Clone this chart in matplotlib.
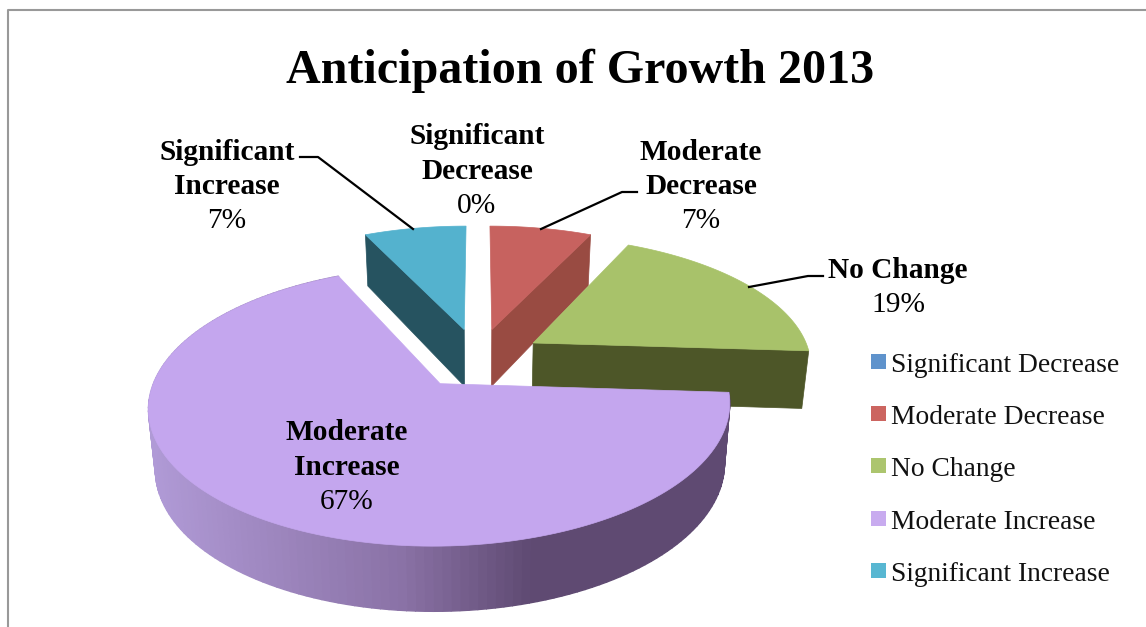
import numpy as np
import matplotlib
matplotlib.use('Agg')
import matplotlib.pyplot as plt
from matplotlib.patches import Polygon, Rectangle

categories = ['Significant Decrease', 'Moderate Decrease', 'No Change',
              'Moderate Increase', 'Significant Increase']
percents = [0, 7, 19, 67, 7]

top_colors = ['#5F93CC', '#C7625F', '#A8C26A', '#C4A6EE', '#54B2CE']
side_colors = ['#2F4A68', '#994B42', '#4D5628', '#5F4A72', '#265360']
legend_colors = ['#5F93CC', '#CC6560', '#ACC56E', '#C8ABEF', '#58B7D2']

# label text lines, centre x and the y of the first line
label_lines = [['Significant', 'Decrease'], ['Moderate', 'Decrease'], ['No Change'],
               ['Moderate', 'Increase'], ['Significant', 'Increase']]
label_x = [477, 701, 898, 347, 227]
label_y = [137, 152, 271, 433, 152]
leaders = [None,
           [(541, 229), (622, 192), (637, 192)],
           [(749, 287), (808, 276), (823, 276)],
           None,
           [(413, 229), (318, 157), (300, 157)]]
legend_y = [362, 414, 466, 519, 571]

# projection of the pie plane on the page, in pixels
CX, CY = 478, 358
FX, FY = 278, 128
PERSP = 0.157
EXPLODE = 0.235
BASE_SCALE = 0.979


def project(px, py):
    w = 1 + PERSP * py
    return CX + FX * px / w, CY - FY * py / w


def lower(x, y, py):
    # matching point on the bottom face of the pie
    return CX + (x - CX) * BASE_SCALE, y + 58 - 6 * py


def wedge_points(start, stop):
    mid = (start + stop) / 2
    ox, oy = EXPLODE * np.sin(mid), EXPLODE * np.cos(mid)
    theta = np.linspace(start, stop, 160)
    px = np.concatenate([[ox], ox + np.sin(theta)])
    py = np.concatenate([[oy], oy + np.cos(theta)])
    return px, py


def wall_shade(x):
    # the round wall of the large slice gets darker towards the right
    light = np.array([0xB0, 0x9A, 0xD6]) / 255
    middle = np.array([0x8A, 0x72, 0xA6]) / 255
    dark = np.array([0x5F, 0x4A, 0x72]) / 255
    stops = [150, 400, 530]
    return [np.interp(x, stops, [light[i], middle[i], dark[i]]) for i in range(3)]


fig = plt.figure(figsize=(11.46, 6.27), dpi=100)
ax = fig.add_axes([0, 0, 1, 1])
ax.set_xlim(0, 1146)
ax.set_ylim(627, 0)
ax.axis('off')

# chart border, only top and left are on the page
ax.plot([7.5, 7.5, 1146], [627, 9.5, 9.5], color='#999999', lw=1.5)

edges = np.cumsum([0] + percents) / sum(percents) * 2 * np.pi

# back slices first so the front ones cover them
for i in [4, 1, 2, 3]:
    px, py = wedge_points(edges[i], edges[i + 1])
    x, y = project(px, py)
    bx, by = lower(x, y, py)

    if i == 3:
        for j in range(1, len(x) - 1):
            quad = [(x[j], y[j]), (x[j + 1], y[j + 1]), (bx[j + 1], by[j + 1]), (bx[j], by[j])]
            c = wall_shade((x[j] + x[j + 1]) / 2)
            ax.add_patch(Polygon(quad, fc=c, ec=c, lw=1.0, zorder=2))
    else:
        # flat cut face, running from the centre to the lower rim corner
        k = -1 if i == 2 or i == 1 else 1
        face = [(x[0], y[0]), (x[k], y[k]), (bx[k], by[k]), (bx[0], by[0])]
        ax.add_patch(Polygon(face, fc=side_colors[i], ec=side_colors[i], lw=0.5, zorder=2))

    ax.add_patch(Polygon(np.column_stack([x, y]), fc=top_colors[i], ec=top_colors[i], lw=0.5, zorder=3))

serif = 'Liberation Serif'
ax.text(580.5, 71, 'Anticipation of Growth 2013', ha='center', va='center',
        family=serif, weight='bold', fontsize=34.6, color='black', zorder=5)

for i, lines in enumerate(label_lines):
    yy = label_y[i]
    for line in lines:
        ax.text(label_x[i], yy, line, ha='center', va='center', family=serif,
                weight='bold', fontsize=21.2, color='black', zorder=5)
        yy += 34.5
    ax.text(label_x[i], yy, f'{percents[i]}%', ha='center', va='center', family=serif,
            fontsize=21.2, color='black', zorder=5)
    if leaders[i]:
        lx, ly = zip(*leaders[i])
        ax.plot(lx, ly, color='black', lw=1.6, zorder=4)

for i, name in enumerate(categories):
    ax.add_patch(Rectangle((871, legend_y[i] - 8), 15, 15, fc=legend_colors[i], ec='none'))
    ax.text(891, legend_y[i] + 3.5, name, ha='left', va='center', family=serif,
            fontsize=19.8, color='#111111')

fig.savefig('out.png', dpi=100)
